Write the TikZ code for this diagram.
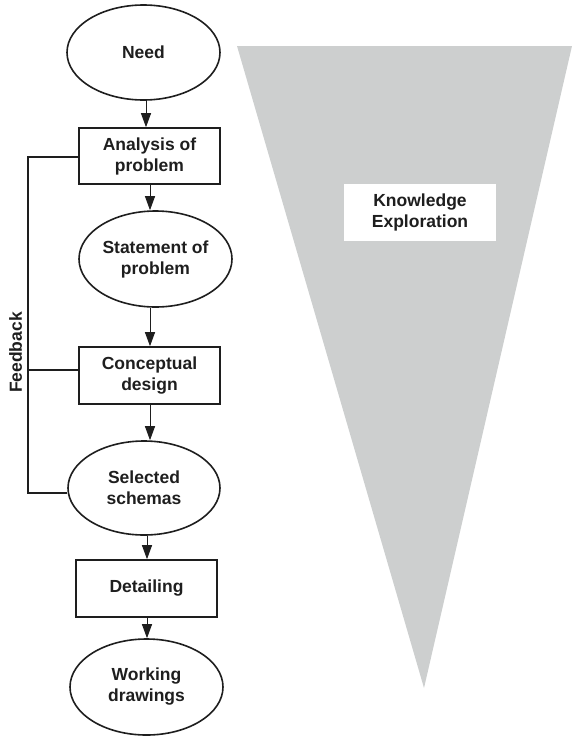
\documentclass[tikz,border=0pt]{standalone}
\usepackage{fontspec}
\setmainfont{Liberation Sans}
\usetikzlibrary{shapes.geometric,arrows.meta}
\definecolor{funnel}{RGB}{205,207,207}
\definecolor{ink}{RGB}{30,30,30}
\tikzset{
  lbl/.style={font=\bfseries\fontsize{17.5}{21}\selectfont, text=ink, align=center},
  oval/.style={lbl, ellipse, draw=ink, line width=1.6pt, inner sep=0pt},
  stepbox/.style={lbl, rectangle, draw=ink, line width=1.6pt, inner sep=0pt},
  flow/.style={draw=ink, line width=1pt, -{Triangle[length=14pt,width=10pt]}},
  fb/.style={draw=ink, line width=1.6pt}
}
\begin{document}
\begin{tikzpicture}[x=1pt,y=-1pt]
\useasboundingbox (0,0) rectangle (572,736);
% knowledge funnel
\fill[funnel] (237,46) -- (572,46) -- (424,688) -- cycle;
\node[lbl, fill=white, minimum width=152pt, minimum height=57pt, inner sep=0pt] (know) at (420,212.5) {Knowledge\\Exploration};

% design process
\node[oval, minimum width=153pt, minimum height=95pt] (need) at (143.5,52.5) {Need};
\node[stepbox, minimum width=141pt, minimum height=56pt] (analysis) at (149.5,156) {Analysis of\\problem};
\node[oval, minimum width=153pt, minimum height=96pt] (statement) at (155.5,259) {Statement of\\problem};
\node[stepbox, minimum width=141pt, minimum height=57pt] (concept) at (149.5,375.5) {Conceptual\\design};
\node[oval, minimum width=152pt, minimum height=94pt] (selected) at (144,488) {Selected\\schemas};
\node[stepbox, minimum width=141pt, minimum height=57pt] (detail) at (146.5,588.5) {Detailing};
\node[oval, minimum width=153pt, minimum height=96pt] (working) at (146.5,687) {Working\\drawings};

\draw[flow] (need.south -| 146,0) -- (analysis.north -| 146,0);
\draw[flow] (analysis.south -| 150,0) -- (statement.north -| 150,0);
\draw[flow] (statement.south -| 150,0) -- (concept.north -| 150,0);
\draw[flow] (concept.south -| 150,0) -- (selected.north -| 150,0);
\draw[flow] (selected.south -| 147,0) -- (detail.north -| 147,0);
\draw[flow] (detail.south -| 147,0) -- (working.north -| 147,0);

% feedback loop
\coordinate (fbtop) at (28,157);
\coordinate (fbmid) at (28,370);
\coordinate (fbbot) at (28,493);
\draw[fb] (analysis.west |- fbtop) -- (fbtop) -- (fbbot) -- (selected.west |- fbbot);
\draw[fb] (concept.west |- fbmid) -- (fbmid);
\node[lbl, rotate=90] (feedback) at (15.5,352.5) {Feedback};
\end{tikzpicture}
\end{document}
